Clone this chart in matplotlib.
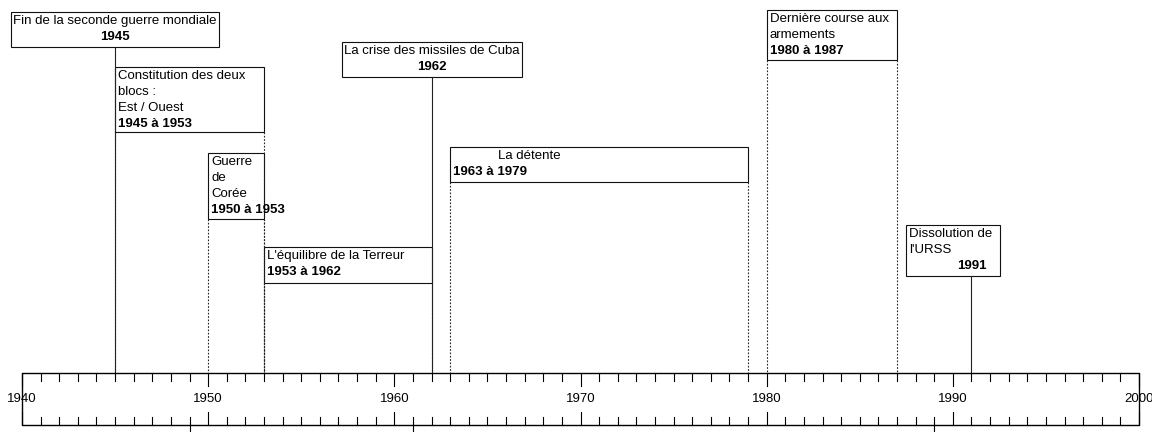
import matplotlib
matplotlib.use("Agg")
import matplotlib.pyplot as plt
from matplotlib.patches import Rectangle

# Events of the timeline
titles = [
    "Fin de la seconde guerre mondiale",
    "Constitution des deux\nblocs :\nEst / Ouest",
    "Guerre\nde\nCorée",
    "L'équilibre de la Terreur",
    "La crise des missiles de Cuba",
    "La détente",
    "Dernière course aux\narmements",
    "Dissolution de\nl'URSS",
]
dates = ["1945", "1945 à 1953", "1950 à 1953", "1953 à 1962",
         "1962", "1963 à 1979", "1980 à 1987", "1991"]
starts = [1945, 1945, 1950, 1953, 1962, 1963, 1980, 1991]
ends = [1945, 1953, 1953, 1962, 1962, 1979, 1987, 1991]

# Axis
year_min, year_max = 1940, 2000
decade_labels = ["1940", "1950", "1960", "1970", "1980", "1990", "2000"]
stray_marks = [1949, 1961, 1989]

# Layout (pixels): box top, box height, single-event box extents (left, right)
box_top = [12, 67, 153, 247, 42, 147, 10, 225]
box_h = [35, 65, 66, 36, 35, 35, 50, 51]
single_ext = {0: (104, 104), 4: (90, 90), 7: (65, 29)}
title_align = ["center", "left", "left", "left", "center", "left", "left", "left"]
title_indent = [0, 0, 0, 0, 0, 45, 0, 0]
date_align = ["center", "left", "left", "left", "center", "left", "left", "center"]

W, H = 1152, 432
x0_px, x1_px = 22, 1139
ppy = (x1_px - x0_px) / (year_max - year_min)
axis_top, axis_bot = 373, 425


def px(n):
    return n / ppy


fig = plt.figure(figsize=(W / 100, H / 100), dpi=100)
ax = fig.add_axes([0, 0, 1, 1])
ax.set_xlim(year_min - px(x0_px), year_min + px(W - x0_px))
ax.set_ylim(H, 0)
ax.axis("off")

font = dict(family=["Liberation Sans", "DejaVu Sans"], fontsize=9.5, color="black")
line_h = 16
lw = 0.8

for i in range(len(titles)):
    s, e = starts[i], ends[i]
    if s == e:
        left = s - px(single_ext[i][0])
        right = s + px(single_ext[i][1])
    else:
        left, right = s, e
    top = box_top[i]
    bottom = top + box_h[i]
    ax.add_patch(Rectangle((left, top), right - left, box_h[i],
                           fill=False, edgecolor="#111111", lw=lw))

    lines = titles[i].split("\n")
    for k, ln in enumerate(lines):
        y = top + 9 + line_h * k
        if title_align[i] == "center":
            ax.text(s, y, ln, ha="center", va="center", **font)
        else:
            ax.text(left + px(3 + title_indent[i]), y, ln, ha="left", va="center", **font)
    y = top + 9 + line_h * len(lines)
    if date_align[i] == "center":
        ax.text(s, y, dates[i], ha="center", va="center", fontweight="bold", **font)
    else:
        ax.text(left + px(3), y, dates[i], ha="left", va="center", fontweight="bold", **font)

    # connector lines down to the axis
    if s == e:
        ax.plot([s, s], [bottom, axis_top], color="#222222", lw=lw)
    else:
        for yr in (s, e):
            ax.plot([yr, yr], [bottom, axis_top], color="#222222", lw=lw,
                    linestyle=(0, (1.5, 1.5)))

# axis band
ax.add_patch(Rectangle((year_min, axis_top), year_max - year_min, axis_bot - axis_top,
                       fill=False, edgecolor="black", lw=1.0))
for yr in range(year_min, year_max + 1):
    n = 13 if yr % 10 == 0 else 8
    ax.plot([yr, yr], [axis_top, axis_top + n], color="black", lw=lw)
    ax.plot([yr, yr], [axis_bot, axis_bot - n], color="black", lw=lw)
for lab in decade_labels:
    ax.text(int(lab), 399, lab, ha="center", va="center", **font)
for yr in stray_marks:
    ax.plot([yr, yr], [axis_bot, H], color="black", lw=lw)

fig.savefig("out.png", dpi=100)
